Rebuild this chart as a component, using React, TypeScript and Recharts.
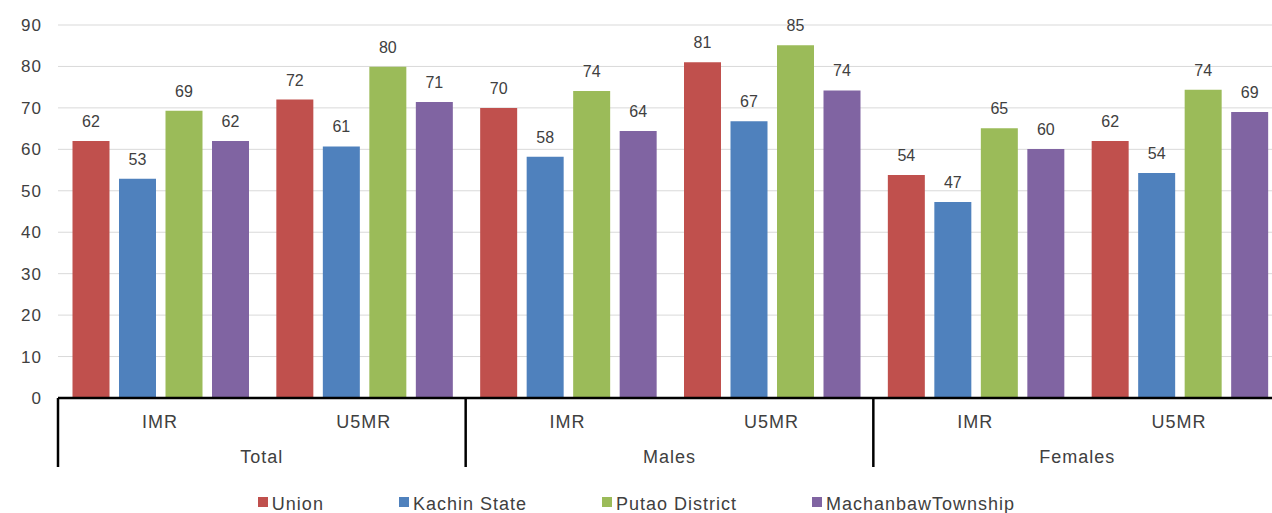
import { BarChart, Bar, XAxis, YAxis, CartesianGrid, Legend, LabelList } from 'recharts';

// values
const categories = ['IMR', 'U5MR', 'IMR', 'U5MR', 'IMR', 'U5MR'];
const groups = ['Total', 'Total', 'Males', 'Males', 'Females', 'Females'];
const union = [62, 72, 70, 81, 53.8, 62];
const kachin = [52.9, 60.7, 58.2, 66.8, 47.3, 54.3];
const putao = [69.3, 79.9, 74.1, 85.1, 65.1, 74.4];
const machanbaw = [62, 71.4, 64.4, 74.2, 60.1, 69];
const yTicks = [0, 10, 20, 30, 40, 50, 60, 70, 80, 90];

const series = [
  { key: 'union', name: 'Union', color: '#C0504D' },
  { key: 'kachin', name: 'Kachin State', color: '#4F81BD' },
  { key: 'putao', name: 'Putao District', color: '#9BBB59' },
  { key: 'machanbaw', name: 'MachanbawTownship', color: '#8064A2' },
];

const data = categories.map((metric, i) => ({
  metric,
  group: groups[i],
  union: union[i],
  kachin: kachin[i],
  putao: putao[i],
  machanbaw: machanbaw[i],
}));

// the original plot area runs a little past the right edge of the picture
const VIEW_W = 1272;
const W = 1281;
const H = 513;
const Y_AXIS_W = 58;
const TOP = 25;
const AXIS1_H = 37;
const AXIS2_H = 32;
const LEGEND_H = 46;
const PLOT_BOTTOM = H - LEGEND_H - AXIS1_H - AXIS2_H;
const BAND = (W - Y_AXIS_W) / categories.length;
const FONT = '"Liberation Sans", Arial, sans-serif';
const TEXT = '#404040';

const YTick = ({ x, y, payload }: any) => (
  <text x={x - 8} y={y + 6} textAnchor="end" fontSize={17} letterSpacing={1} fill={TEXT} fontFamily={FONT}>
    {payload.value}
  </text>
);

const CategoryTick = ({ x, payload }: any) => (
  <text x={x} y={PLOT_BOTTOM + 30} textAnchor="middle" fontSize={18} letterSpacing={1} fill={TEXT} fontFamily={FONT}>
    {payload.value}
  </text>
);

const GroupTick = ({ x, payload, index }: any) => {
  if (index % 2 !== 0) return <g />;
  const left = x - BAND / 2;
  return (
    <g>
      <line x1={left} x2={left} y1={PLOT_BOTTOM} y2={PLOT_BOTTOM + AXIS1_H + AXIS2_H} stroke="#000" strokeWidth={2.5} />
      <text x={x + BAND / 2} y={PLOT_BOTTOM + 65} textAnchor="middle" fontSize={18} letterSpacing={1} fill={TEXT} fontFamily={FONT}>
        {payload.value}
      </text>
    </g>
  );
};

const ValueLabel = ({ x, y, width, value }: any) => (
  <text x={x + width / 2} y={y - 14} textAnchor="middle" fontSize={16} fill={TEXT} fontFamily={FONT}>
    {Math.round(value)}
  </text>
);

const LegendContent = () => (
  <div
    style={{
      display: 'flex',
      justifyContent: 'center',
      gap: 75,
      paddingTop: 28,
      paddingRight: 8,
      height: LEGEND_H,
      boxSizing: 'border-box',
      fontFamily: FONT,
      fontSize: 18,
      letterSpacing: 1,
      lineHeight: '18px',
      color: TEXT,
      whiteSpace: 'nowrap',
    }}
  >
    {series.map((s) => (
      <div key={s.key} style={{ display: 'flex', alignItems: 'center', gap: 4 }}>
        <span style={{ width: 10, height: 10, background: s.color, position: 'relative', top: -2 }} />
        {s.name}
      </div>
    ))}
  </div>
);

export default function App() {
  return (
    <div style={{ position: 'absolute', left: 0, top: 0, width: VIEW_W, height: H, overflow: 'hidden', background: '#fff' }}>
      <BarChart
        width={W}
        height={H}
        data={data}
        margin={{ top: TOP, right: 0, bottom: 0, left: 0 }}
        barCategoryGap={14.5}
        barGap={9.5}
      >
        <CartesianGrid vertical={false} stroke="#d9d9d9" />
        <YAxis
          width={Y_AXIS_W}
          domain={[0, 90]}
          ticks={yTicks}
          axisLine={false}
          tickLine={false}
          tick={<YTick />}
        />
        <XAxis
          dataKey="metric"
          height={AXIS1_H}
          interval={0}
          tickLine={false}
          axisLine={{ stroke: '#000', strokeWidth: 2.5 }}
          tick={<CategoryTick />}
        />
        <XAxis
          xAxisId="group"
          dataKey="group"
          height={AXIS2_H}
          interval={0}
          tickLine={false}
          axisLine={false}
          tick={<GroupTick />}
        />
        <Legend
          verticalAlign="bottom"
          height={LEGEND_H}
          content={<LegendContent />}
          wrapperStyle={{ left: 0, width: W, bottom: 0 }}
        />
        {series.map((s) => (
          <Bar key={s.key} dataKey={s.key} name={s.name} fill={s.color} isAnimationActive={false}>
            <LabelList dataKey={s.key} content={<ValueLabel />} />
          </Bar>
        ))}
      </BarChart>
    </div>
  );
}
